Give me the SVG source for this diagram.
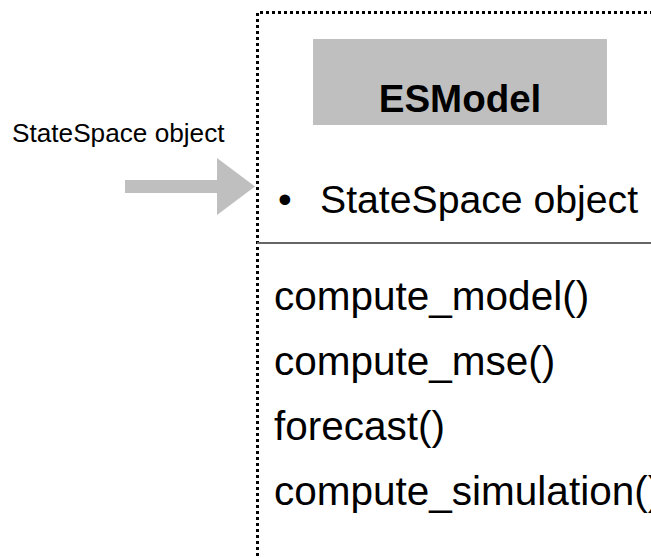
<svg xmlns="http://www.w3.org/2000/svg" width="651" height="558" viewBox="0 0 651 558">
  <style>
    .txt { font-family: "Liberation Sans", Arial, Helvetica, sans-serif; fill: #000; }
    .member { font-size: 40.5px; }
    .attr { font-size: 39.2px; }
    .title { font-size: 38.5px; font-weight: bold; }
    .label { font-size: 26.2px; }
    .frame { fill: none; stroke: #000; stroke-width: 3; stroke-dasharray: 3 3; }
    .gray { fill: #bfbfbf; }
  </style>

  <!-- class frame (dotted outline, runs off the right and bottom edges) -->
  <g id="esmodel">
    <path class="frame" d="M257.5,700 L257.5,12.5 L700,12.5"/>
    <rect class="gray" x="313" y="39" width="294" height="86"/>
    <text class="txt title" x="460" y="112" text-anchor="middle">ESModel</text>
    <text class="txt attr" x="278" y="213">•</text>
    <text class="txt attr" x="320" y="213">StateSpace object</text>
    <line x1="257" y1="243" x2="651" y2="243" stroke="#666" stroke-width="2"/>
    <text class="txt member" x="274" y="310">compute_model()</text>
    <text class="txt member" x="274" y="375">compute_mse()</text>
    <text class="txt member" x="274" y="440">forecast()</text>
    <text class="txt member" x="274" y="505">compute_simulation()</text>
  </g>

  <!-- input label -->
  <g id="input">
    <text class="txt label" x="12" y="142">StateSpace object</text>
  </g>

  <!-- block arrow into the frame -->
  <g id="connectors">
    <path class="gray" d="M125,180 L217,180 L217,158 L255,186.5 L217,215 L217,193 L125,193 Z"/>
  </g>
</svg>
